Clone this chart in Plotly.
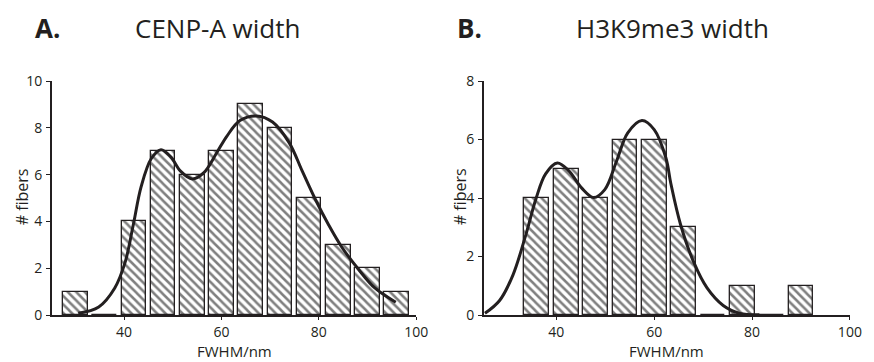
import plotly.graph_objects as go

# Histogram bins (bin centres, nm) and fibre counts
cenpa_bins = [30, 36, 42, 48, 54, 60, 66, 72, 78, 84, 90, 96]
cenpa_counts = [1, 0, 4, 7, 6, 7, 9, 8, 5, 3, 2, 1]

h3k9_bins = [36, 42, 48, 54, 60, 66, 72, 78, 84, 90]
h3k9_counts = [4, 5, 4, 6, 6, 3, 0, 1, 0, 1]

# Fitted distribution curves (FWHM, fibre count)
cenpa_fit_x = [30.6, 34.8, 38.1, 40.2, 41.9, 43.5, 45.6, 47.6, 49.6, 51.6, 54.0, 56.4,
               59.1, 61.1, 63.8, 67.2, 70.5, 73.9, 76.6, 79.3, 82.0, 84.7, 88.1, 91.5, 95.8]
cenpa_fit_y = [0.08, 0.35, 1.16, 2.24, 3.86, 5.48, 6.69, 7.07, 6.76, 6.15, 5.82, 6.09,
               6.96, 7.64, 8.31, 8.51, 8.25, 7.37, 6.15, 4.94, 3.86, 2.91, 1.97, 1.16, 0.55]

h3k9_fit_x = [25.4, 28.4, 31.1, 33.8, 35.8, 37.8, 40.2, 42.5, 45.2, 47.6, 49.9, 52.3,
              54.6, 57.5, 60.0, 62.4, 63.4, 65.4, 68.1, 70.8, 74.1, 77.5, 81.5]
h3k9_fit_y = [0.06, 0.5, 1.36, 2.77, 3.96, 4.83, 5.2, 4.94, 4.34, 4.02, 4.29, 5.26,
              6.23, 6.65, 6.34, 5.37, 4.5, 3.09, 1.8, 0.93, 0.33, 0.06, 0.01]

x_ticks = [40, 60, 80, 100]
cenpa_y_ticks = [0, 2, 4, 6, 8, 10]
h3k9_y_ticks = [0, 2, 4, 6, 8]

INK = "#231f20"
FONT = "Open Sans"
W, H = 874, 362

bar_style = dict(
    color="white",
    line=dict(color=INK, width=1.3),
    pattern=dict(shape="\\", fgcolor="black", bgcolor="white", size=6, solidity=0.42),
)

fig = go.Figure()

fig.add_trace(go.Bar(x=cenpa_bins, y=cenpa_counts, width=5.05, marker=bar_style,
                     xaxis="x", yaxis="y", showlegend=False))
fig.add_trace(go.Scatter(x=cenpa_fit_x, y=cenpa_fit_y, mode="lines",
                         line=dict(color=INK, width=3, shape="spline", smoothing=1.0),
                         xaxis="x", yaxis="y", showlegend=False))

fig.add_trace(go.Bar(x=h3k9_bins, y=h3k9_counts, width=5.05, marker=bar_style,
                     xaxis="x2", yaxis="y2", showlegend=False))
fig.add_trace(go.Scatter(x=h3k9_fit_x, y=h3k9_fit_y, mode="lines",
                         line=dict(color=INK, width=3, shape="spline", smoothing=1.0),
                         xaxis="x2", yaxis="y2", showlegend=False))

def px_x(p):
    return p / W

def px_y(p):
    return (H - p) / H

tick_font = dict(family=FONT, size=14, color=INK)

x_common = dict(
    range=[25.2, 100], tickvals=x_ticks, showline=True, linecolor=INK, linewidth=1.6,
    ticks="outside", ticklen=3, tickwidth=1.3, tickcolor=INK, showgrid=False,
    zeroline=False, tickfont=tick_font, ticklabelstandoff=0,
)
y_common = dict(
    showline=True, linecolor=INK, linewidth=1.6, ticks="outside", ticklen=4,
    tickwidth=1.3, tickcolor=INK, showgrid=False, zeroline=False, tickfont=tick_font,
    ticklabelstandoff=1,
)

y_dom = [px_y(322), px_y(75)]

fig.update_layout(
    width=W, height=H,
    margin=dict(l=0, r=0, t=0, b=0),
    paper_bgcolor="white", plot_bgcolor="white",
    bargap=0,
    font=dict(family=FONT, color=INK),
    xaxis=dict(domain=[px_x(52.7), px_x(422)], anchor="y", **x_common),
    yaxis=dict(domain=y_dom, anchor="x", range=[0, 10], tickvals=cenpa_y_ticks, **y_common),
    xaxis2=dict(domain=[px_x(490.7), px_x(861.7)], anchor="y2", **x_common),
    yaxis2=dict(domain=y_dom, anchor="x2", range=[0, 8], tickvals=h3k9_y_ticks, **y_common),
)

def note(text, x, y, size, bold=False, angle=0):
    fig.add_annotation(
        text=f"<b>{text}</b>" if bold else text,
        x=px_x(x), y=px_y(y), xref="paper", yref="paper",
        xanchor="center", yanchor="middle", showarrow=False, textangle=angle,
        font=dict(family=FONT, size=size, color=INK),
    )

# Panel letters and titles
note("A.", 48.5, 19, 26, bold=True)
note("CENP-A width", 220.5, 19, 26)
note("B.", 476.5, 19, 26, bold=True)
note("H3K9me3 width", 681.7, 19, 26)

# Axis titles
note("# fibers", 22, 197, 16, angle=-90)
note("# fibers", 466, 197, 16, angle=-90)
note("FWHM/nm", 237.4, 359.5, 15)
note("FWHM/nm", 676.2, 359.5, 15)

fig.write_html("out.html")
